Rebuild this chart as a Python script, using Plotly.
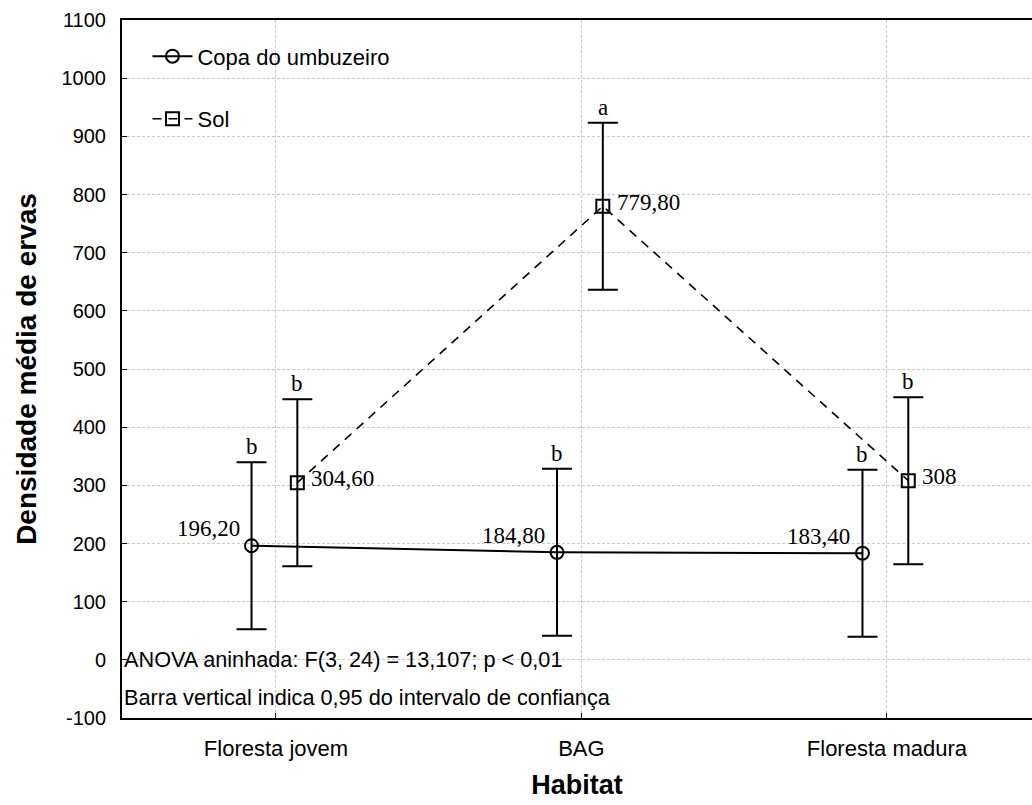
import plotly.graph_objects as go

categories = ["Floresta jovem", "BAG", "Floresta madura"]
copa_means = [196.2, 184.8, 183.4]
sol_means = [304.6, 779.8, 308.0]
copa_ci = [143.6, 143.6, 143.6]
sol_ci = [143.6, 143.6, 143.6]
copa_letters = ["b", "b", "b"]
sol_letters = ["b", "a", "b"]
y_ticks = list(range(-100, 1101, 100))
stats_lines = ["ANOVA aninhada: F(3, 24) = 13,107; p < 0,01",
               "Barra vertical indica 0,95 do intervalo de confiança"]

SANS = "Arial, Liberation Sans, sans-serif"
SERIF = "Times New Roman, Liberation Serif, serif"
COPA_OFF, SOL_OFF = -0.08, 0.07


def fmt(v):
    if float(v).is_integer():
        return str(int(v))
    return f"{v:.2f}".replace(".", ",")


copa_x = [i + COPA_OFF for i in range(len(categories))]
sol_x = [i + SOL_OFF for i in range(len(categories))]

fig = go.Figure()
fig.add_trace(go.Scatter(
    x=copa_x, y=copa_means, name="Copa do umbuzeiro", mode="lines+markers",
    line=dict(color="black", width=2),
    marker=dict(symbol="circle-open", size=13, color="black", line=dict(width=2)),
    error_y=dict(type="data", array=copa_ci, color="black", thickness=2, width=15),
    legendgroup="a",
))
fig.add_trace(go.Scatter(
    x=sol_x, y=sol_means, name="Sol", mode="lines+markers",
    line=dict(color="black", width=1.6, dash="9px,7px"),
    marker=dict(symbol="square-open", size=13, color="black", line=dict(width=2)),
    error_y=dict(type="data", array=sol_ci, color="black", thickness=2, width=15),
    legendgroup="b",
))

ann = []
for x, m, c, l in zip(copa_x, copa_means, copa_ci, copa_letters):
    ann.append(dict(x=x, y=m, text=fmt(m), showarrow=False, xanchor="right",
                    yanchor="middle", xshift=-10, yshift=17,
                    font=dict(family=SERIF, size=23, color="black")))
    ann.append(dict(x=x, y=m + c, text=l, showarrow=False, xanchor="center",
                    yanchor="bottom", yshift=1,
                    font=dict(family=SERIF, size=23, color="black")))
for x, m, c, l in zip(sol_x, sol_means, sol_ci, sol_letters):
    ann.append(dict(x=x, y=m, text=fmt(m), showarrow=False, xanchor="left",
                    yanchor="middle", xshift=12, yshift=4,
                    font=dict(family=SERIF, size=23, color="black")))
    ann.append(dict(x=x, y=m + c, text=l, showarrow=False, xanchor="center",
                    yanchor="bottom", yshift=1,
                    font=dict(family=SERIF, size=23, color="black")))
for k, t in enumerate(stats_lines):
    ann.append(dict(x=0, xref="paper", y=0 - 64 * k, yref="y", text=t, showarrow=False,
                    xanchor="left", yanchor="middle", xshift=0,
                    font=dict(family=SANS, size=21.7, color="black")))

fig.update_layout(
    width=1032, height=805,
    margin=dict(l=122, r=0, t=20, b=87),
    paper_bgcolor="white", plot_bgcolor="white",
    showlegend=True,
    legend=dict(x=0.028, y=0.978, xanchor="left", yanchor="top",
                font=dict(family=SANS, size=22, color="black"), itemwidth=40,
                bgcolor="rgba(0,0,0,0)", tracegroupgap=31, traceorder="grouped"),
    annotations=ann,
    xaxis=dict(
        range=[-0.504, 2.475], tickmode="array", tickvals=list(range(len(categories))),
        ticktext=categories, ticks="inside", ticklen=5, tickcolor="black",
        ticklabelstandoff=10,
        showline=True, linecolor="black", linewidth=2, mirror=True,
        showgrid=True, gridcolor="#c8c8c8", griddash="3px,2px", gridwidth=1,
        zeroline=False, tickfont=dict(family=SANS, size=22, color="black"),
        title=dict(text="<b>Habitat</b>", font=dict(family=SANS, size=27, color="black"),
                   standoff=15),
    ),
    yaxis=dict(
        range=[-100, 1100], tickmode="array", tickvals=y_ticks,
        ticktext=[str(v) for v in y_ticks],
        ticks="inside", ticklen=5, tickcolor="black", ticklabelstandoff=10,
        showline=True, linecolor="black", linewidth=2, mirror=False,
        showgrid=True, gridcolor="#c8c8c8", griddash="3px,2px", gridwidth=1,
        zeroline=False, tickfont=dict(family=SANS, size=20, color="black"),
        title=dict(text="<b>Densidade média de ervas</b>",
                   font=dict(family=SANS, size=28, color="black"), standoff=17),
    ),
)

fig.write_html("out.html")
